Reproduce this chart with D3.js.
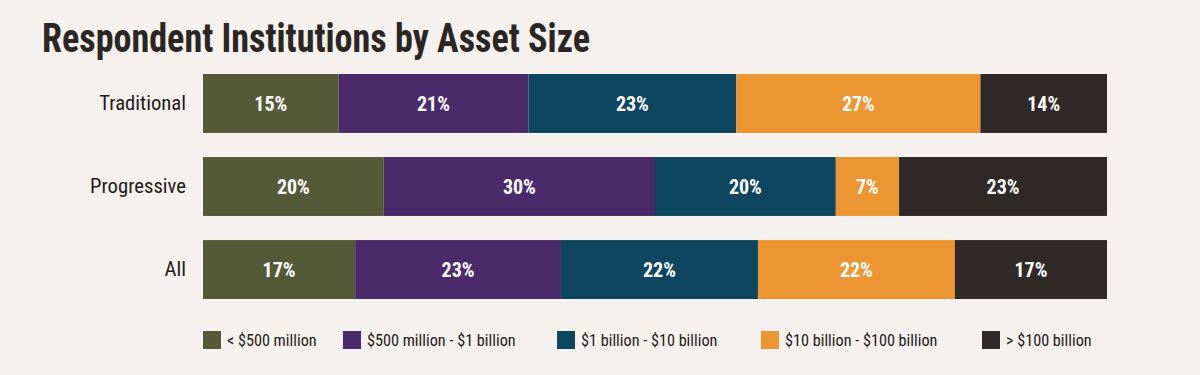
<!DOCTYPE html>
<html><head><meta charset="utf-8">
<script src="https://cdn.jsdelivr.net/npm/d3@7"></script>
<style>
html,body{margin:0;padding:0;background:#f4f1ee;}
svg{display:block;}
text{font-family:"Roboto Condensed","Liberation Sans Narrow","Roboto",sans-serif;}
</style></head>
<body><svg id="c" width="1200" height="375"></svg>
<script>
const title = "Respondent Institutions by Asset Size";
const categories = ["Traditional","Progressive","All"];
const seriesNames = ["< $500 million","$500 million - $1 billion","$1 billion - $10 billion","$10 billion - $100 billion","> $100 billion"];
const seriesKeys = ["s1","s2","s3","s4","s5"];
const colors = ["#545a38","#4a2a6b","#0e4660","#ec9633","#2f2a28"];
const traditional = [15,21,23,27,14];
const progressive = [20,30,20,7,23];
const all = [17,23,22,22,17];
const legendX = [203,343,557,761,982];

const rows = [traditional, progressive, all].map((v,i)=>{
  const o = {cat: categories[i]};
  seriesKeys.forEach((k,j)=>o[k]=v[j]);
  return o;
});
const stacked = d3.stack().keys(seriesKeys).offset(d3.stackOffsetExpand)(rows);

const svg = d3.select("#c");
svg.append("rect").attr("width",1200).attr("height",375).attr("fill","#f4f1ee");

svg.append("text").attr("x",42).attr("y",52).text(title)
  .attr("font-size",41).attr("font-weight",700).attr("fill","#2b2624")
  .attr("textLength",548).attr("lengthAdjust","spacingAndGlyphs");

const x = d3.scaleLinear().domain([0,1]).range([203,1107]);
const y = d3.scaleBand().domain(categories).range([74,299]).paddingInner(0.29).paddingOuter(0);

const color = d3.scaleOrdinal().domain(seriesKeys).range(colors);

const g = svg.append("g");
stacked.forEach((layer,li)=>{
  const gl = g.append("g").attr("fill",color(layer.key));
  gl.selectAll("rect").data(layer).join("rect")
    .attr("x",d=>x(d[0])).attr("width",d=>x(d[1])-x(d[0]))
    .attr("y",d=>y(d.data.cat)).attr("height",y.bandwidth());
  g.append("g").selectAll("text").data(layer).join("text")
    .attr("x",d=>(x(d[0])+x(d[1]))/2).attr("y",d=>y(d.data.cat)+y.bandwidth()/2)
    .attr("dy","0.36em").attr("text-anchor","middle")
    .attr("fill","#ffffff").attr("font-weight",700).attr("font-size",20)
    .text(d=>d.data[layer.key]+"%");
});

const yAxis = d3.axisLeft(y).tickSize(0).tickPadding(0);
const ga = svg.append("g").attr("transform","translate(186,0)").call(yAxis);
ga.select(".domain").remove();
ga.selectAll("text").attr("font-size",20.7).attr("fill","#1f1b1a")
  .attr("font-family",'"Roboto Condensed","Liberation Sans Narrow","Roboto",sans-serif');

const lg = svg.append("g");
seriesNames.forEach((n,i)=>{
  const it = lg.append("g").attr("transform",`translate(${legendX[i]},331)`);
  it.append("rect").attr("width",18).attr("height",18).attr("fill",colors[i]);
  it.append("text").attr("x",24).attr("y",9).attr("dy","0.36em")
    .attr("font-size",16.2).attr("fill","#1f1b1a").text(n);
});
</script></body></html>
